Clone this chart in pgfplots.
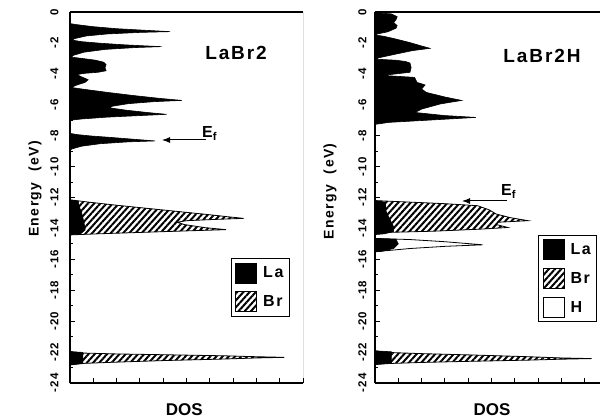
\documentclass[border=0pt]{standalone}
\usepackage{fontspec}
\setmainfont{Liberation Sans}
\newfontfamily\spaced[LetterSpace=10]{Liberation Sans}
\usepackage{pgfplots}
\pgfplotsset{compat=1.18}
\usetikzlibrary{patterns.meta,arrows.meta}

\tikzset{
  lafill/.style={fill=black, draw=black, line width=0.6pt},
  brfill/.style={pattern={Lines[angle=48,distance=4.6pt,line width=2pt]}, draw=black, line width=0.8pt},
  hfill/.style={fill=white, draw=black, line width=0.8pt},
}

\pgfplotsset{
  dosaxis/.style={
    scale only axis, width=233pt, height=371pt,
    xmin=0, xmax=10, ymin=-24, ymax=0,
    axis x line*=bottom, axis y line*=left,
    axis line style={line width=1.8pt, -},
    tick align=inside, tick style={line width=1pt, black},
    major tick length=5pt, minor tick length=3pt,
    xtick={0,1,...,10}, xticklabels={},
    ytick={-24,-22,...,0}, minor ytick={-23,-21,...,-1},
    yticklabels={-24,-22,-20,-18,-16,-14,-12,-10,-8,-6,-4,-2,0},
    yticklabel style={rotate=90, anchor=south, font=\spaced\bfseries\fontsize{11.5}{11.5}\selectfont},
    yticklabel shift=8pt,
    ylabel={Energy\ \ (eV)},
    xlabel={DOS},
    label style={font=\spaced\bfseries\fontsize{14}{14}\selectfont},
    xlabel style={font=\bfseries\fontsize{17}{17}\selectfont},
    legend image code/.code={\draw[#1, line width=0.8pt] (0pt,-10pt) rectangle (21pt,10pt);},
    legend style={draw=black, line width=1.3pt, font=\spaced\bfseries\fontsize{16}{16}\selectfont,
      inner sep=4pt, row sep=8pt, cells={anchor=west},
      /tikz/every odd column/.append style={column sep=4pt}},
  }
}

\begin{document}
\begin{tikzpicture}[x=1pt,y=1pt]
\useasboundingbox (0pt,0pt) rectangle (600pt,418pt);

% LaBr2
\begin{axis}[dosaxis, at={(70pt,35pt)}, anchor=south west,
  ylabel style={at={(axis description cs:-0.150,0.523)}, anchor=center},
  xlabel style={at={(axis description cs:0.49,-0.073)}, anchor=center},
  legend style={at={(axis cs:6.9,-15.91)}, anchor=north west},
  legend entries={La,Br}]
\addlegendimage{lafill}
\addlegendimage{brfill}
% Br bands
\addplot[brfill, forget plot] coordinates {(0,-12.15) (0.8,-12.3) (2,-12.5) (3.3,-12.7) (4.6,-12.9) (5.9,-13.1) (6.8,-13.25) (7.45,-13.35) (6.2,-13.42) (5.0,-13.5) (4.6,-13.6) (4.9,-13.75) (5.8,-13.95) (6.7,-14.08) (5.2,-14.15) (3.2,-14.25) (1.2,-14.35) (0,-14.42)};
\addplot[brfill, forget plot] coordinates {(0,-21.97) (0.5,-22.06) (2,-22.12) (4,-22.17) (6.6,-22.24) (8,-22.3) (9.2,-22.34) (8,-22.38) (6.6,-22.45) (4,-22.55) (2,-22.65) (0.6,-22.73) (0,-22.83)};
% La bands
\addplot[lafill, forget plot] coordinates {(0,-0.75) (0.3,-0.82) (1.0,-0.95) (2.0,-1.08) (3.2,-1.18) (4.3,-1.27) (3.0,-1.32) (1.6,-1.42) (0.7,-1.55) (0.2,-1.72) (0.1,-1.82) (0.5,-1.92) (1.3,-2.02) (2.3,-2.12) (3.2,-2.19) (3.93,-2.24) (2.8,-2.3) (1.5,-2.42) (0.6,-2.6) (0.15,-2.8) (0.05,-2.92) (0.5,-3.0) (1.1,-3.12) (1.45,-3.25) (1.55,-3.4) (1.5,-3.6) (1.55,-3.8) (1.2,-3.9) (0.6,-3.97) (0.3,-4.05) (0.5,-4.2) (0.78,-4.38) (0.65,-4.55) (0.3,-4.72) (0.05,-4.88) (0.5,-4.98) (1.6,-5.2) (2.7,-5.4) (3.8,-5.58) (4.8,-5.72) (3.6,-5.8) (2.5,-5.93) (1.8,-6.1) (1.7,-6.2) (2.4,-6.35) (3.3,-6.5) (4.15,-6.62) (3.0,-6.7) (1.6,-6.8) (0.5,-6.92) (0,-7.0)};
\addplot[lafill, forget plot] coordinates {(0,-7.85) (0.3,-7.93) (0.9,-8.02) (1.8,-8.12) (2.8,-8.24) (3.65,-8.34) (2.5,-8.4) (1.3,-8.52) (0.5,-8.68) (0.1,-8.85) (0,-8.93)};
\addplot[lafill, forget plot] coordinates {(0,-12.15) (0.35,-12.25) (0.4,-12.6) (0.5,-13.0) (0.6,-13.6) (0.65,-14.1) (0.45,-14.35) (0,-14.42)};
\addplot[lafill, forget plot] coordinates {(0,-21.97) (0.55,-22.02) (0.55,-22.72) (0,-22.83)};
\draw[line width=1.6pt] (rel axis cs:0,1) -- (rel axis cs:1,1);
\draw[line width=0.8pt] (rel axis cs:1,0) -- (rel axis cs:1,1);
\end{axis}

% LaBr2H
\begin{axis}[dosaxis, at={(375pt,35pt)}, anchor=south west,
  ylabel style={at={(axis description cs:-0.193,0.517)}, anchor=center},
  xlabel style={at={(axis description cs:0.502,-0.072)}, anchor=center},
  yticklabel shift=5pt,
  legend style={at={(axis cs:7.0,-14.4)}, anchor=north west},
  legend entries={La,Br,H}]
\addlegendimage{lafill}
\addlegendimage{brfill}
\addlegendimage{hfill}
\addplot[brfill, forget plot] coordinates {(0,-12.2) (1.5,-12.3) (3,-12.4) (4.4,-12.53) (4.9,-12.8) (5.2,-13.07) (5.8,-13.3) (6.57,-13.5) (5.3,-13.6) (5.2,-13.75) (5.7,-13.94) (4.5,-14.05) (2.5,-14.18) (0,-14.28)};
\addplot[brfill, forget plot] coordinates {(0,-21.92) (0.5,-22.02) (2,-22.1) (4,-22.18) (6.6,-22.3) (8,-22.38) (9.3,-22.42) (8,-22.46) (6.6,-22.52) (4,-22.6) (2,-22.67) (0.6,-22.74) (0,-22.8)};
\addplot[hfill, forget plot] coordinates {(0,-14.65) (1.5,-14.72) (3,-14.86) (4.62,-15.06) (3,-15.16) (1.5,-15.3) (0.5,-15.44) (0,-15.5)};
\addplot[lafill, forget plot] coordinates {(0,-0.05) (0.7,-0.12) (0.95,-0.3) (0.9,-0.5) (0.8,-0.68) (0.95,-0.88) (0.9,-1.05) (0.55,-1.28) (0.1,-1.42) (0,-1.48) (0.4,-1.58) (0.9,-1.75) (1.5,-1.98) (2.0,-2.2) (2.36,-2.35) (1.6,-2.5) (0.9,-2.72) (0.2,-2.95) (0,-3.05) (0.9,-3.12) (1.3,-3.2) (1.5,-3.3) (1.55,-3.6) (1.5,-3.9) (0.8,-4.02) (0.3,-4.1) (1.7,-4.23) (1.8,-4.55) (2.15,-4.72) (2.0,-4.98) (2.2,-5.2) (3.0,-5.5) (3.72,-5.72) (2.8,-5.95) (2.0,-6.28) (1.72,-6.5) (3.0,-6.7) (4.33,-6.82) (2.6,-6.97) (0.6,-7.14) (0,-7.27)};
\addplot[lafill, forget plot] coordinates {(0,-12.2) (0.45,-12.3) (0.45,-12.8) (0.6,-13.3) (0.8,-13.9) (0.8,-14.2) (0.4,-14.35) (0,-14.4)};
\addplot[lafill, forget plot] coordinates {(0,-14.65) (0.9,-14.7) (1.0,-15.0) (0.8,-15.3) (0.3,-15.48) (0,-15.52)};
\addplot[lafill, forget plot] coordinates {(0,-21.92) (0.7,-21.98) (0.7,-22.72) (0,-22.8)};
\draw[line width=1.6pt] (rel axis cs:0,1) -- (rel axis cs:1,1);
\end{axis}

% annotations
\node[font=\spaced\bfseries\fontsize{19}{19}\selectfont] at (236pt,365pt) {LaBr2};
\node[font=\spaced\bfseries\fontsize{19}{19}\selectfont] at (542pt,362pt) {LaBr2H};
\draw[line width=1pt, -{Latex[length=8pt,width=6pt]}] (206pt,278pt) -- (162pt,278pt);
\node[anchor=base west, inner sep=0pt, font=\bfseries\fontsize{16}{16}\selectfont] at (202pt,280pt) {E\textsubscript{f}};
\draw[line width=1pt, -{Latex[length=8pt,width=6pt]}] (507pt,217pt) -- (462pt,217pt);
\node[anchor=base west, inner sep=0pt, font=\bfseries\fontsize{16}{16}\selectfont] at (501pt,222pt) {E\textsubscript{f}};
\end{tikzpicture}
\end{document}
